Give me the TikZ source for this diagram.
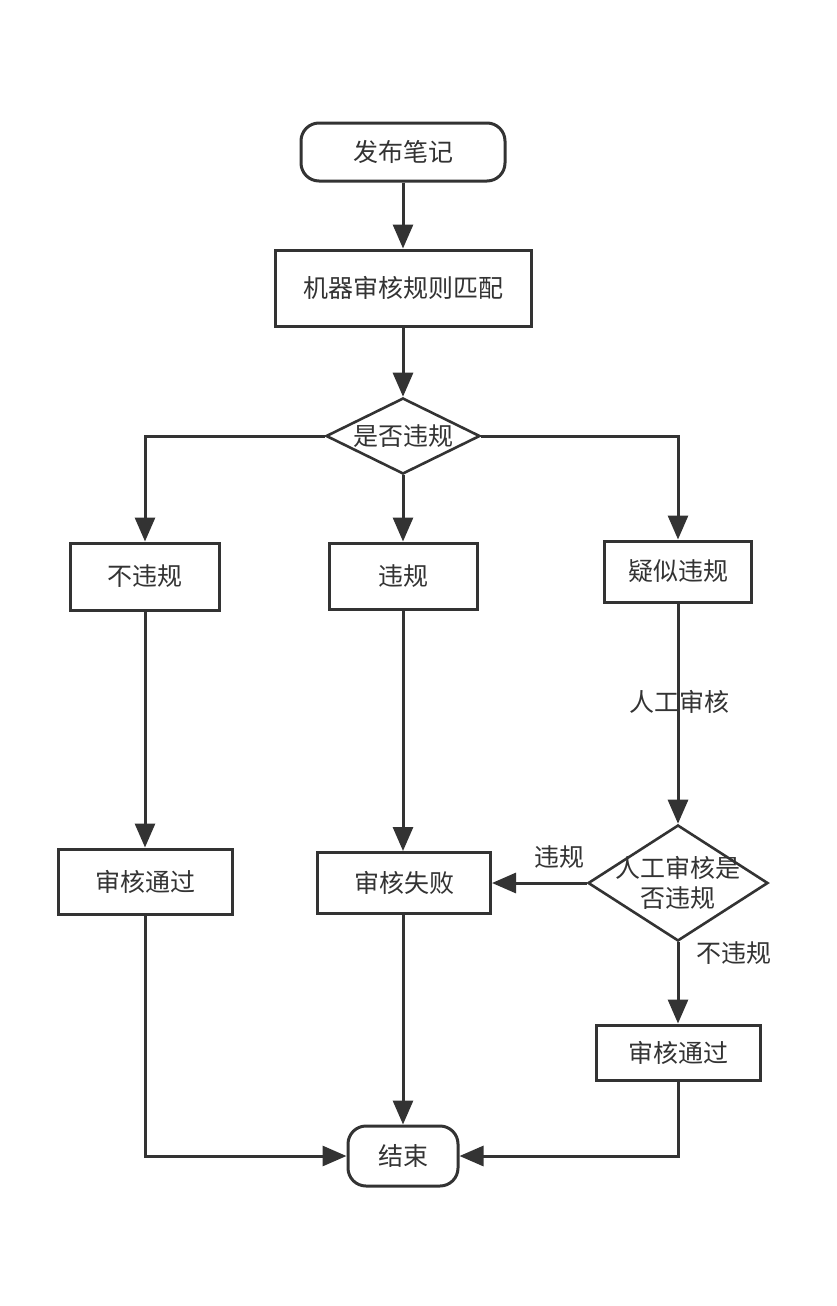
\documentclass[tikz,border=0pt]{standalone}
\usepackage{fontspec}
\setmainfont{Noto Sans CJK SC}
\usetikzlibrary{arrows.meta,shapes.geometric}
\definecolor{ln}{HTML}{333333}
\definecolor{tx}{HTML}{333333}
\begin{document}
\begin{tikzpicture}[x=1pt,y=-1pt,
  every node/.style={font=\fontsize{25}{30}\selectfont, text=tx},
  term/.style={draw=ln, line width=3pt, rounded corners=18pt, minimum width=#1, minimum height=58pt, inner sep=0pt},
  box/.style={draw=ln, line width=3pt, minimum width=#1, inner sep=0pt},
  dec/.style={draw=ln, line width=2.6pt, diamond, aspect=#1, inner sep=0pt},
  conn/.style={draw=ln, line width=3pt, -{Triangle[length=24pt,width=20pt]}},
  lbl/.style={inner sep=1pt}]
\useasboundingbox (0,0) rectangle (837,1306);
\fill[white] (0,0) rectangle (837,1306);

\node[term=204pt] (start) at (403,152) {发布笔记};
\node[box=256pt, minimum height=76pt] (match) at (403,288) {机器审核规则匹配};
\node[dec=2, minimum width=154pt, minimum height=76pt] (d1) at (403,436) {};
\node at (403,436) {是否违规};
\node[box=149pt, minimum height=67pt] (nv) at (145,576.5) {不违规};
\node[box=148pt, minimum height=66pt] (v) at (403,576) {违规};
\node[box=147pt, minimum height=61pt] (sv) at (678,571.5) {疑似违规};
\node[dec=1.55, minimum width=180pt, minimum height=116pt] (d2) at (678,883) {};
\node[align=center, font=\fontsize{25}{30}\selectfont] at (678,883) {人工审核是\\否违规};
\node[box=174pt, minimum height=65pt] (pass1) at (145,881.5) {审核通过};
\node[box=173pt, minimum height=61pt] (fail) at (404,883) {审核失败};
\node[box=164pt, minimum height=55pt] (pass2) at (678,1052.5) {审核通过};
\node[term=110pt, minimum height=60pt] (end) at (403,1156) {结束};

\draw[conn] (start) -- (match);
\draw[conn] (match) -- (d1);
\draw[conn] (d1.west) -| (nv.north);
\draw[conn] (d1) -- (v);
\draw[conn] (d1.east) -| (sv.north);
\draw[conn] (sv) -- (d2);
\node[lbl] (manual) at (679,702) {人工审核};
\draw[conn] (d2.west) -- (fail.east);
\node[lbl] (lv) at (559,857) {违规};
\draw[conn] (d2.south) -- (pass2.north);
\node[lbl] (lnv) at (734,953) {不违规};
\draw[conn] (nv) -- (pass1);
\draw[conn] (v.south) -- (v.south |- fail.north);
\draw[conn] (fail.south -| end.north) -- (end.north);
\draw[conn] (pass1.south) |- (end.west);
\draw[conn] (pass2.south) |- (end.east);
\end{tikzpicture}
\end{document}
